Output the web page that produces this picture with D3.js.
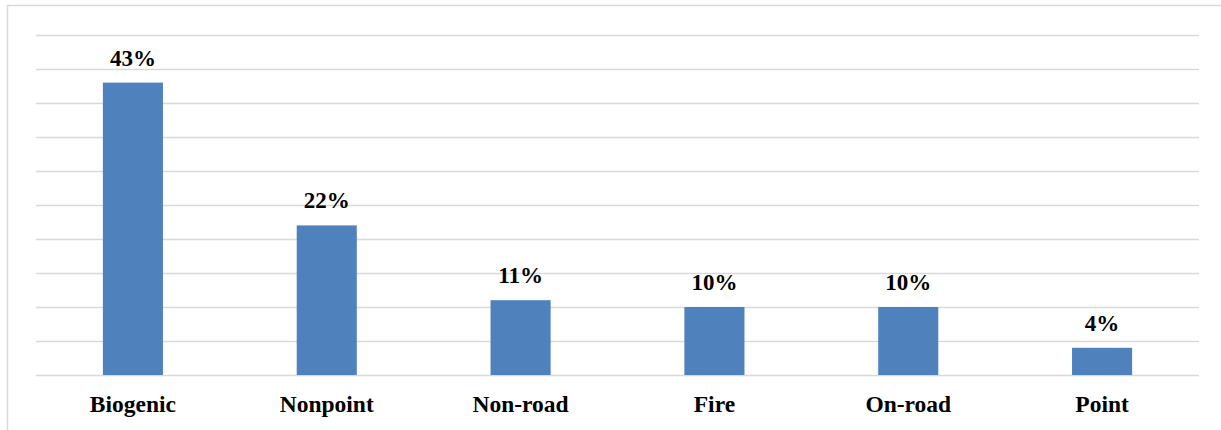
<!DOCTYPE html>
<html>
<head>
<meta charset="utf-8">
<script src="https://cdn.jsdelivr.net/npm/d3@7"></script>
<style>
  body { margin: 0; background: #fff; }
  svg { display: block; }
</style>
</head>
<body>
<svg id="drawing_region"></svg>
<script>
const categories = ['Biogenic', 'Nonpoint', 'Non-road', 'Fire', 'On-road', 'Point'];
const shares = [43, 22, 11, 10, 10, 4];
const gridTicks = [0, 5, 10, 15, 20, 25, 30, 35, 40, 45, 50];

const width = 1221, height = 430;
const margin = {top: 35, right: 22, bottom: 55, left: 36};

const svg = d3.select('#drawing_region')
    .attr('width', width)
    .attr('height', height);

// chart frame (only top and left edges are visible in the crop)
svg.append('path')
    .attr('d', `M7.5,${height} V5.5 H${width}`)
    .attr('fill', 'none')
    .attr('stroke', '#d9d9d9')
    .attr('stroke-width', 1.5);

const innerW = width - margin.left - margin.right;
const innerH = height - margin.top - margin.bottom;

const chart = svg.append('g')
    .attr('transform', `translate(${margin.left}, ${margin.top})`);

const xscale = d3.scaleBand()
    .domain(categories)
    .range([0, innerW])
    .paddingInner(0.69)
    .paddingOuter(0.345);

const yscale = d3.scaleLinear()
    .domain([0, 50])
    .range([innerH, 0]);

// gridlines
chart.append('g')
    .call(d3.axisLeft(yscale).tickValues(gridTicks).tickSize(-innerW).tickFormat(''))
    .call(g => g.select('.domain').remove())
    .call(g => g.selectAll('line').attr('stroke', '#d9d9d9').attr('stroke-width', 1.5));

// bars
chart.selectAll('rect.bar')
    .data(shares)
    .join('rect')
    .attr('class', 'bar')
    .attr('x', (d, i) => xscale(categories[i]))
    .attr('y', d => yscale(d))
    .attr('width', xscale.bandwidth())
    .attr('height', d => innerH - yscale(d))
    .attr('fill', '#4f81bd');

// value labels
chart.selectAll('text.value')
    .data(shares)
    .join('text')
    .attr('class', 'value')
    .attr('x', (d, i) => xscale(categories[i]) + xscale.bandwidth() / 2)
    .attr('y', d => yscale(d) - 17)
    .attr('text-anchor', 'middle')
    .attr('font-family', '"Liberation Serif", "Times New Roman", serif')
    .attr('font-weight', 'bold')
    .attr('font-size', 23)
    .text(d => d + '%');

// category axis
chart.append('g')
    .attr('transform', `translate(0, ${innerH})`)
    .call(d3.axisBottom(xscale).tickSize(0).tickPadding(20))
    .call(g => g.select('.domain').remove())
    .call(g => g.selectAll('text')
        .attr('fill', '#000')
        .attr('font-family', '"Liberation Serif", "Times New Roman", serif')
        .attr('font-weight', 'bold')
        .attr('font-size', 23.5));
</script>
</body>
</html>
